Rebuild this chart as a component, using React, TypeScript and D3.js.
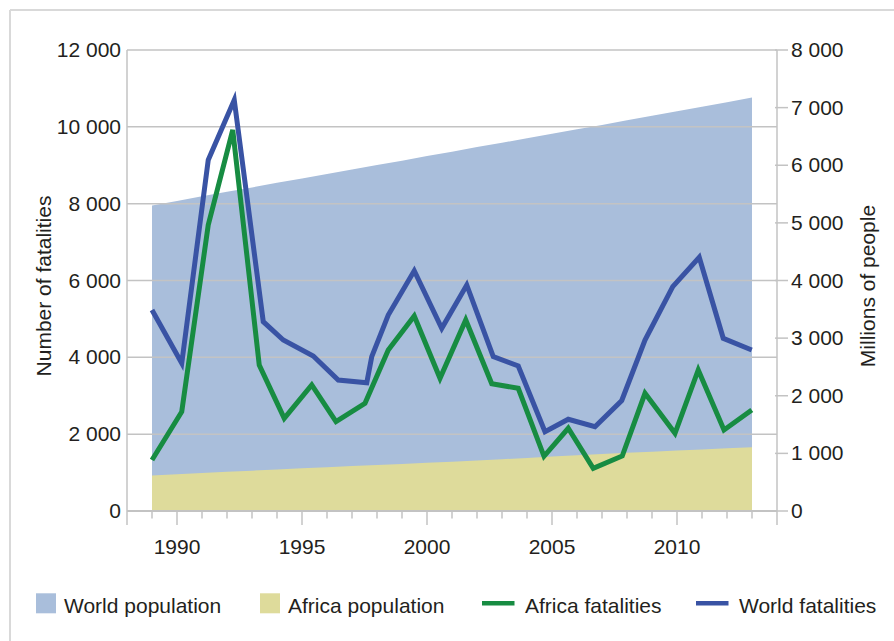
import React from "react";
import * as d3 from "d3";

// ---- Data ----
const popYears = [1989, 1990, 1991, 1992, 1993, 1994, 1995, 1996, 1997, 1998, 1999, 2000, 2001, 2002, 2003, 2004, 2005, 2006, 2007, 2008, 2009, 2010, 2011, 2012, 2013];
const worldPopulation = [5300, 5380, 5460, 5540, 5615, 5695, 5770, 5850, 5925, 6005, 6080, 6160, 6235, 6315, 6390, 6470, 6545, 6625, 6700, 6780, 6860, 6935, 7015, 7095, 7175];
const africaPopulation = [618, 638, 659, 679, 700, 720, 741, 760, 779, 798, 817, 836, 855, 877, 899, 921, 944, 966, 988, 1010, 1029, 1048, 1067, 1087, 1106];

const worldFatalYears = [1989.0, 1990.19, 1991.25, 1992.29, 1993.45, 1994.25, 1995.45, 1996.45, 1997.59, 1997.79, 1998.45, 1999.49, 2000.59, 2001.59, 2002.65, 2003.65, 2004.72, 2005.65, 2006.72, 2007.79, 2008.72, 2009.83, 2010.89, 2011.85, 2012.99];
const worldFatalities = [5232, 3845, 9137, 10698, 4928, 4451, 4035, 3410, 3340, 4017, 5102, 6255, 4756, 5883, 4017, 3774, 2064, 2387, 2194, 2876, 4451, 5839, 6604, 4495, 4191];

const africaFatalYears = [1989.0, 1990.19, 1991.25, 1992.23, 1993.29, 1994.29, 1995.39, 1996.36, 1997.52, 1998.45, 1999.49, 2000.52, 2001.55, 2002.59, 2003.65, 2004.68, 2005.65, 2006.65, 2007.81, 2008.72, 2009.92, 2010.85, 2011.88, 2012.99];
const africaFatalities = [1328, 2585, 7445, 9918, 3800, 2413, 3280, 2325, 2803, 4191, 5076, 3454, 4972, 3314, 3194, 1424, 2153, 1111, 1432, 3064, 2023, 3670, 2108, 2629];

const leftTicks = [0, 2000, 4000, 6000, 8000, 10000, 12000];
const rightTicks = [0, 1000, 2000, 3000, 4000, 5000, 6000, 7000, 8000];
const yearLabels = [1990, 1995, 2000, 2005, 2010];
const minorYears = d3.range(1989, 2014);

const legendItems = [
  { label: "World population", kind: "box", color: "#a9bedb" },
  { label: "Africa population", kind: "box", color: "#dedb9b" },
  { label: "Africa fatalities", kind: "line", color: "#178c42" },
  { label: "World fatalities", kind: "line", color: "#3953a4" },
];

const fmt = (v: number) => (v >= 1000 ? `${Math.floor(v / 1000)} ${String(v % 1000).padStart(3, "0")}` : String(v));

export default function App() {
  const W = 894, H = 641;
  const left = 127, right = 777, top = 50, bottom = 511;
  const x = d3.scaleLinear().domain([1988, 2014]).range([left, right]);
  const yL = d3.scaleLinear().domain([0, 12000]).range([bottom, top]);
  const yR = d3.scaleLinear().domain([0, 8000]).range([bottom, top]);

  const worldArea = d3.area<number>().x((_, i) => x(popYears[i])).y0(yR(0)).y1((d) => yR(d));
  const africaArea = d3.area<number>().x((_, i) => x(popYears[i])).y0(yR(0)).y1((d) => yR(d));
  const worldLine = d3.line<number>().x((_, i) => x(worldFatalYears[i])).y((d) => yL(d));
  const africaLine = d3.line<number>().x((_, i) => x(africaFatalYears[i])).y((d) => yL(d));

  const font = "'Liberation Sans', Arial, Helvetica, sans-serif";
  const textColor = "#231f20";
  const gridColor = "#c3c3c3";
  const fs = 21;
  const legendX = [36, 260, 482, 696];

  return (
    <svg width={W} height={H} style={{ position: "absolute", left: 0, top: 0 }} fontFamily={font}>
      <rect x={0} y={0} width={W} height={H} fill="#fff" />
      {/* frame */}
      <line x1={10} y1={10} x2={W} y2={10} stroke="#d9d9d9" strokeWidth={2} />
      <line x1={10} y1={10} x2={10} y2={H} stroke="#d9d9d9" strokeWidth={2} />

      {/* areas */}
      <path d={worldArea(worldPopulation) || ""} fill="#a9bedb" />
      <path d={africaArea(africaPopulation) || ""} fill="#dedb9b" />

      {/* gridlines */}
      {leftTicks.map((t) => (
        <line key={t} x1={left} x2={right} y1={yL(t)} y2={yL(t)} stroke={gridColor} strokeWidth={1.5} />
      ))}

      {/* axes */}
      <line x1={left} x2={left} y1={top} y2={525} stroke={gridColor} strokeWidth={1.5} />
      <line x1={right} x2={right} y1={top} y2={525} stroke={gridColor} strokeWidth={1.5} />
      <line x1={left} x2={right} y1={bottom} y2={bottom} stroke={gridColor} strokeWidth={2} />
      {minorYears.map((yr) => (
        <line key={yr} x1={x(yr)} x2={x(yr)} y1={bottom} y2={yearLabels.includes(yr) ? 525 : 518.5} stroke={gridColor} strokeWidth={1.5} />
      ))}
      {rightTicks.map((t) => (
        <line key={t} x1={right - 2} x2={right + 11} y1={yR(t)} y2={yR(t)} stroke={gridColor} strokeWidth={1.5} />
      ))}

      {/* tick labels */}
      {leftTicks.map((t) => (
        <text key={t} x={121} y={yL(t) + 7} textAnchor="end" fontSize={fs} fill={textColor}>{fmt(t)}</text>
      ))}
      {rightTicks.map((t) => (
        <text key={t} x={791} y={yR(t) + 7} textAnchor="start" fontSize={fs} fill={textColor}>{fmt(t)}</text>
      ))}
      {yearLabels.map((yr) => (
        <text key={yr} x={x(yr)} y={554} textAnchor="middle" fontSize={fs} fill={textColor}>{yr}</text>
      ))}

      {/* axis titles */}
      <text transform={`translate(50.5,286) rotate(-90)`} textAnchor="middle" fontSize={fs} fill={textColor}>Number of fatalities</text>
      <text transform={`translate(875,286) rotate(-90)`} textAnchor="middle" fontSize={fs} fill={textColor}>Millions of people</text>

      {/* lines */}
      <path d={worldLine(worldFatalities) || ""} fill="none" stroke="#3953a4" strokeWidth={5} strokeLinejoin="miter" />
      <path d={africaLine(africaFatalities) || ""} fill="none" stroke="#178c42" strokeWidth={5} strokeLinejoin="miter" />

      {/* legend */}
      {legendItems.map((it, i) => (
        <g key={it.label}>
          {it.kind === "box" ? (
            <rect x={legendX[i]} y={593.3} width={20} height={20} fill={it.color} />
          ) : (
            <line x1={legendX[i]} x2={legendX[i] + 32.5} y1={603.3} y2={603.3} stroke={it.color} strokeWidth={4.5} />
          )}
          <text x={it.kind === "box" ? legendX[i] + 28 : legendX[i] + 43} y={612.5} fontSize={fs} fill={textColor}>{it.label}</text>
        </g>
      ))}
    </svg>
  );
}
